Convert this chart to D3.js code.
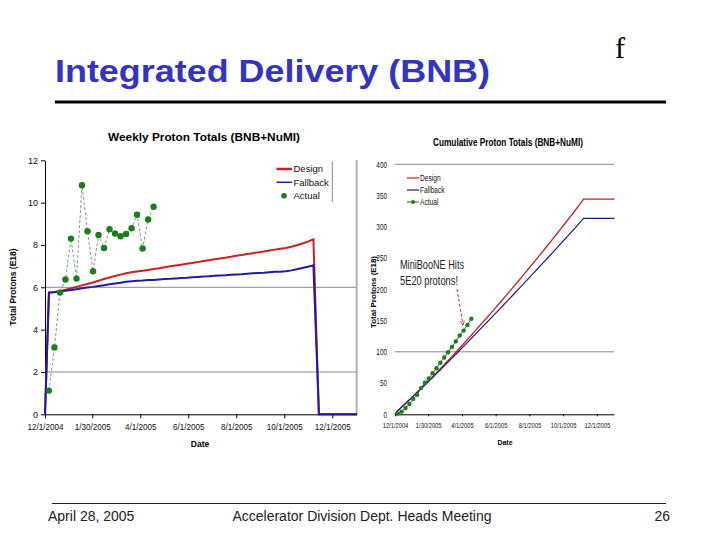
<!DOCTYPE html>
<html><head><meta charset="utf-8">
<script src="https://cdn.jsdelivr.net/npm/d3@7"></script>
<style>
body{margin:0;background:#fff;}
svg{display:block;font-family:"Liberation Sans",Arial,sans-serif;}
</style></head>
<body><svg id="c" width="720" height="540"></svg>
<script>
// ---------- data ----------
const xTickDates  = ["12/1/2004","1/30/2005","4/1/2005","6/1/2005","8/1/2005","10/1/2005","12/1/2005"];
const xTickLabels = ["12/1/2004","1/30/2005","4/1/2005","6/1/2005","8/1/2005","10/1/2005","12/1/2005"];
const seriesStart = "12/1/2004";   // lines start here at zero
const firstWeek   = "12/6/2004";   // weekly points from here on
const weeklyTicks = [0,2,4,6,8,10,12];
const cumTicks    = [0,50,100,150,200,250,300,350,400];

const designWeekly = [0,
 5.75,5.78,5.82,5.88,5.95,6.02,6.09,6.16,6.23,6.31,
 6.39,6.46,6.53,6.60,6.66,6.71,6.75,6.78,6.82,6.86,
 6.90,6.95,6.99,7.03,7.07,7.11,7.15,7.19,7.24,7.28,
 7.32,7.36,7.40,7.44,7.49,7.53,7.57,7.61,7.65,7.69,
 7.74,7.78,7.82,7.86,7.92,7.99,8.07,8.16,8.27,
 0,0,0,0,0,0,0,0];
const fallbackWeekly = [0,
 5.75,5.77,5.80,5.84,5.87,5.91,5.95,5.99,6.02,6.06,
 6.10,6.14,6.18,6.22,6.26,6.29,6.31,6.32,6.34,6.35,
 6.37,6.39,6.40,6.42,6.44,6.45,6.47,6.49,6.51,6.52,
 6.54,6.56,6.57,6.59,6.61,6.62,6.64,6.66,6.68,6.69,
 6.71,6.73,6.74,6.76,6.80,6.85,6.91,6.97,7.04,
 0,0,0,0,0,0,0,0];
const actualWeekly = [1.12,3.16,5.75,6.37,8.30,6.41,10.82,8.65,6.76,8.47,
 7.86,8.74,8.54,8.41,8.52,8.79,9.43,7.83,9.20,9.81];

const designCum = [0,
 5.75,11.53,17.35,23.23,29.18,35.20,41.29,47.45,53.68,59.99,
 66.38,72.84,79.37,85.97,92.63,99.34,106.09,112.87,119.69,126.55,
 133.45,140.40,147.39,154.42,161.49,168.60,175.75,182.94,190.18,197.46,
 204.78,212.14,219.54,226.98,234.47,242.00,249.57,257.18,264.83,272.52,
 280.26,288.04,295.86,303.72,311.64,319.63,327.70,335.86,344.13,
 344.13,344.13,344.13,344.13,344.13,344.13,344.13,344.13];
const fallbackCum = [0,
 5.75,11.52,17.32,23.16,29.03,34.94,40.89,46.88,52.90,58.96,
 65.06,71.20,77.38,83.60,89.86,96.15,102.46,108.78,115.12,121.47,
 127.84,134.23,140.63,147.05,153.49,159.94,166.41,172.90,179.41,185.93,
 192.47,199.03,205.60,212.19,218.80,225.42,232.06,238.72,245.40,252.09,
 258.80,265.53,272.27,279.03,285.83,292.68,299.59,306.56,313.60,
 313.60,313.60,313.60,313.60,313.60,313.60,313.60,313.60];
const actualCum = [1.12,4.28,10.03,16.40,24.70,31.11,41.93,50.58,57.34,65.81,
 73.67,82.41,90.95,99.36,107.88,116.67,126.10,133.93,143.13,152.94];

const seriesNames = ["Design","Fallback","Actual"];
const footer = ["April 28, 2005","Accelerator Division Dept. Heads Meeting","26"];

// ---------- helpers ----------
const parse = d3.timeParse("%m/%d/%Y");
const t0 = parse(seriesStart), w0 = parse(firstWeek);
const weekDate = i => d3.timeDay.offset(w0, 7*i);
const lineDates = [t0].concat(d3.range(designWeekly.length-1).map(weekDate));
const actDates = actualWeekly.map((_,i)=>weekDate(i));
const xDomain = [parse("12/1/2004"), parse("1/1/2006")];

const RED="#cc1f1f", BLUE="#1c1ca8", GREEN="#1e7b1e";
const svg = d3.select("#c");
svg.append("rect").attr("width",720).attr("height",540).attr("fill","#fff");

function squeeze(sel, f){ sel.each(function(){ const w=this.getComputedTextLength(); d3.select(this).attr("textLength", w*f).attr("lengthAdjust","spacingAndGlyphs");}); }

// ---------- slide chrome ----------
svg.append("text").attr("x",55).attr("y",82).text("Integrated Delivery (BNB)")
  .attr("font-size",32).attr("font-weight","bold").attr("fill","#3434c4")
  .attr("textLength",435).attr("lengthAdjust","spacingAndGlyphs");
svg.append("text").attr("x",615).attr("y",58).text("f")
  .attr("font-family","'Liberation Serif','DejaVu Serif',serif").attr("font-size",30).attr("fill","#000");
svg.append("line").attr("x1",55).attr("x2",666).attr("y1",102).attr("y2",102).attr("stroke","#000").attr("stroke-width",3);
svg.append("line").attr("x1",52).attr("x2",666).attr("y1",503.5).attr("y2",503.5).attr("stroke","#222").attr("stroke-width",1);
svg.append("text").attr("x",48).attr("y",521).text(footer[0]).attr("font-size",14).attr("fill","#222");
svg.append("text").attr("x",362).attr("y",521).attr("text-anchor","middle").text(footer[1]).attr("font-size",14).attr("fill","#222");
svg.append("text").attr("x",670).attr("y",521).attr("text-anchor","end").text(footer[2]).attr("font-size",14).attr("fill","#222");

// ---------- left chart: weekly ----------
const xL = d3.scaleTime().domain(xDomain).range([45,356.7]);
const yL = d3.scaleLinear().domain([0,12]).range([414.3,160.3]);
const gL = svg.append("g");
svg.append("clipPath").attr("id","clipL").append("rect").attr("x",44).attr("y",150).attr("width",313).attr("height",266);

[2,6].forEach(v=>gL.append("line").attr("x1",45).attr("x2",356.7).attr("y1",yL(v)).attr("y2",yL(v)).attr("stroke","#8a8a8a").attr("stroke-width",1));
gL.append("line").attr("x1",356.7).attr("x2",356.7).attr("y1",160).attr("y2",414.3).attr("stroke","#b0b0b0").attr("stroke-width",2);

const axYL = gL.append("g").attr("transform","translate(45,0)")
  .call(d3.axisLeft(yL).tickValues(weeklyTicks).tickSize(4).tickPadding(3).tickSizeOuter(0));
axYL.selectAll("text").attr("font-size",9).attr("font-family","'Liberation Sans',Arial,sans-serif").attr("fill","#111");
const axXL = gL.append("g").attr("transform","translate(0,414.3)")
  .call(d3.axisBottom(xL).tickValues(xTickDates.map(parse)).tickFormat((d,i)=>xTickLabels[i]).tickSize(4).tickPadding(5).tickSizeOuter(0));
axXL.selectAll("text").attr("font-size",9).attr("font-family","'Liberation Sans',Arial,sans-serif").attr("fill","#111");
squeeze(axXL.selectAll("text"),0.9);
axXL.select(".domain").attr("stroke","#000");

const lineL = d3.line().x((d,i)=>xL(lineDates[i])).y(d=>yL(d));
gL.append("path").attr("clip-path","url(#clipL)").attr("d",lineL(designWeekly)).attr("fill","none").attr("stroke",RED).attr("stroke-width",2);
gL.append("path").attr("clip-path","url(#clipL)").attr("d",lineL(fallbackWeekly)).attr("fill","none").attr("stroke",BLUE).attr("stroke-width",2);
const lineA = d3.line().x((d,i)=>xL(actDates[i])).y(d=>yL(d));
gL.append("path").attr("d",lineA(actualWeekly)).attr("fill","none").attr("stroke","#7f9f7f").attr("stroke-width",1).attr("stroke-dasharray","3,2");
gL.selectAll("circle.a").data(actualWeekly).join("circle").attr("class","a")
  .attr("cx",(d,i)=>xL(actDates[i])).attr("cy",d=>yL(d)).attr("r",3.2).attr("fill",GREEN);

// legend left
const lgL = gL.append("g");
lgL.append("line").attr("x1",332.3).attr("x2",332.3).attr("y1",161).attr("y2",202).attr("stroke","#8a8a8a");
lgL.append("line").attr("x1",276.5).attr("x2",292).attr("y1",169).attr("y2",169).attr("stroke",RED).attr("stroke-width",2.5);
lgL.append("line").attr("x1",276.5).attr("x2",292).attr("y1",182.3).attr("y2",182.3).attr("stroke",BLUE).attr("stroke-width",1.5);
lgL.append("circle").attr("cx",284).attr("cy",195.7).attr("r",2.8).attr("fill",GREEN);
[169,182.3,195.7].forEach((y,i)=>lgL.append("text").attr("x",293.5).attr("y",y+3.3).text(seriesNames[i]).attr("font-size",9.5).attr("fill","#111"));

gL.append("text").attr("x",204).attr("y",141).attr("text-anchor","middle").text("Weekly Proton Totals (BNB+NuMI)")
  .attr("font-size",11).attr("font-weight","bold").attr("textLength",192).attr("lengthAdjust","spacingAndGlyphs");
gL.append("text").attr("transform","translate(16,287) rotate(-90)").attr("text-anchor","middle").text("Total Protons (E18)")
  .attr("font-size",8.5).attr("font-weight","bold");
gL.append("text").attr("x",200).attr("y",447).attr("text-anchor","middle").text("Date").attr("font-size",8.5).attr("font-weight","bold");

// ---------- right chart: cumulative ----------
const xR = d3.scaleTime().domain(xDomain).range([395,614]);
const yR = d3.scaleLinear().domain([0,400]).range([414.3,164.3]);
const gR = svg.append("g");
svg.append("clipPath").attr("id","clipR").append("rect").attr("x",394).attr("y",150).attr("width",221).attr("height",266);

[100,400].forEach(v=>gR.append("line").attr("x1",395).attr("x2",614).attr("y1",yR(v)).attr("y2",yR(v)).attr("stroke","#8a8a8a").attr("stroke-width",1));
const axYR = gR.append("g").attr("transform","translate(395,0)")
  .call(d3.axisLeft(yR).tickValues(cumTicks).tickSize(0).tickPadding(8));
axYR.select(".domain").remove();
axYR.selectAll("text").attr("font-size",8.5).attr("font-family","'Liberation Sans',Arial,sans-serif").attr("fill","#111");
squeeze(axYR.selectAll("text"),0.75);
const axXR = gR.append("g").attr("transform","translate(0,414.3)")
  .call(d3.axisBottom(xR).tickValues(xTickDates.map(parse)).tickFormat((d,i)=>xTickLabels[i]).tickSize(2).tickPadding(6).tickSizeOuter(0));
axXR.select(".domain").attr("stroke","#000");
axXR.selectAll("text").attr("font-size",8).attr("font-family","'Liberation Sans',Arial,sans-serif").attr("fill","#111");
squeeze(axXR.selectAll("text"),0.72);

const lineR = d3.line().x((d,i)=>xR(lineDates[i])).y(d=>yR(d));
gR.append("path").attr("clip-path","url(#clipR)").attr("d",lineR(designCum)).attr("fill","none").attr("stroke",RED).attr("stroke-width",1.3);
gR.append("path").attr("clip-path","url(#clipR)").attr("d",lineR(fallbackCum)).attr("fill","none").attr("stroke","#1a1a88").attr("stroke-width",1.2);
const lineAR = d3.line().x((d,i)=>xR(actDates[i])).y(d=>yR(d));
gR.append("path").attr("d",lineAR(actualCum)).attr("fill","none").attr("stroke",GREEN).attr("stroke-width",1);
gR.selectAll("circle.a").data(actualCum).join("circle").attr("class","a")
  .attr("cx",(d,i)=>xR(actDates[i])).attr("cy",d=>yR(d)).attr("r",2.2).attr("fill",GREEN);

// legend right
const lgR = gR.append("g");
lgR.append("line").attr("x1",407).attr("x2",419).attr("y1",178).attr("y2",178).attr("stroke",RED).attr("stroke-width",1.2);
lgR.append("line").attr("x1",407).attr("x2",419).attr("y1",190).attr("y2",190).attr("stroke","#1a1a88").attr("stroke-width",1.2);
lgR.append("line").attr("x1",407).attr("x2",419).attr("y1",202).attr("y2",202).attr("stroke",GREEN).attr("stroke-width",1);
lgR.append("circle").attr("cx",413).attr("cy",202).attr("r",2).attr("fill",GREEN);
const lgTxt = lgR.selectAll("text").data(seriesNames).join("text").attr("x",420).attr("y",(d,i)=>[178,190,202][i]+3).text(d=>d)
  .attr("font-size",8.5).attr("fill","#111");
squeeze(lgTxt,0.78);

gR.append("text").attr("x",508).attr("y",146).attr("text-anchor","middle").text("Cumulative Proton Totals (BNB+NuMI)")
  .attr("font-size",10).attr("font-weight","bold").attr("textLength",150).attr("lengthAdjust","spacingAndGlyphs");
gR.append("text").attr("transform","translate(376,292) rotate(-90)").attr("text-anchor","middle").text("Total Protons (E18)")
  .attr("font-size",8).attr("font-weight","bold").attr("textLength",72).attr("lengthAdjust","spacingAndGlyphs");
gR.append("text").attr("x",505).attr("y",445).attr("text-anchor","middle").text("Date").attr("font-size",8).attr("font-weight","bold")
  .attr("textLength",15).attr("lengthAdjust","spacingAndGlyphs");

// annotation
gR.append("text").attr("x",400).attr("y",269).text("MiniBooNE Hits").attr("font-size",13).attr("fill","#222")
  .attr("textLength",64).attr("lengthAdjust","spacingAndGlyphs");
gR.append("text").attr("x",400).attr("y",285).text("5E20 protons!").attr("font-size",13).attr("fill","#222")
  .attr("textLength",58).attr("lengthAdjust","spacingAndGlyphs");
svg.append("defs").append("marker").attr("id","ah").attr("viewBox","0 0 10 10").attr("refX",9).attr("refY",5)
  .attr("markerWidth",5).attr("markerHeight",5).attr("orient","auto")
  .append("path").attr("d","M0,1 L10,5 L0,9").attr("fill","none").attr("stroke","#c03030").attr("stroke-width",1.5);
gR.append("line").attr("x1",457).attr("y1",289).attr("x2",463).attr("y2",325).attr("stroke","#c03030").attr("stroke-width",1)
  .attr("stroke-dasharray","3,2").attr("marker-end","url(#ah)");
</script></body></html>
